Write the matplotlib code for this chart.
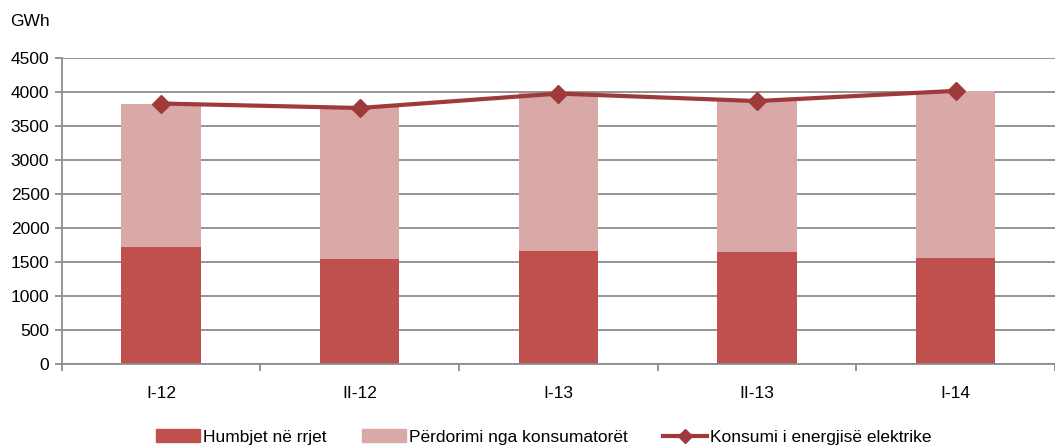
import matplotlib
matplotlib.use("Agg")
import matplotlib.pyplot as plt
from matplotlib.lines import Line2D
from matplotlib.patches import Patch
import numpy as np

categories = ["I-12", "II-12", "I-13", "II-13", "I-14"]
humbjet = [1718, 1532, 1659, 1640, 1551]
perdorimi = [2108, 2236, 2315, 2225, 2461]
konsumi = [3826, 3760, 3972, 3862, 4012]

plt.rcParams["font.family"] = ["Liberation Sans", "DejaVu Sans"]

W, H = 1055, 447
fig = plt.figure(figsize=(W/100, H/100), dpi=100)
unit = 201.5
left_px = 162.5 - 0.5*unit
ax = fig.add_axes([left_px/W, (H-363.5)/H, (W-left_px)/W, (363.5-57.7)/H])

x = np.arange(len(categories))
dark = "#C0504D"
light = "#D9A9A8"
linec = "#9E3B3A"

ax.bar(x, humbjet, width=0.4, color=dark, zorder=2)
ax.bar(x, perdorimi, width=0.4, bottom=humbjet, color=light, zorder=2)
ax.plot(x, konsumi, color=linec, lw=3, marker="D", markersize=9, zorder=3)

ax.set_ylim(0, 4500)
ax.set_yticks(np.arange(0, 4501, 500))
ax.set_xlim(-0.5, (W-left_px)/unit - 0.5)
ax.yaxis.grid(True, color="#8C8C8C", lw=1.3, zorder=0)
ax.set_axisbelow(True)
for s in ["top", "right"]:
    ax.spines[s].set_visible(False)
for s in ["left", "bottom"]:
    ax.spines[s].set_color("#8C8C8C")
    ax.spines[s].set_linewidth(1.3)

ax.set_xticks(x)
ax.set_xticklabels(categories, fontsize=12.5)
ax.set_xticks(np.arange(-0.5, 4.6, 1), minor=True)
ax.tick_params(axis="x", which="major", length=0, pad=16)
ax.tick_params(axis="x", which="minor", length=5, color="#8C8C8C", width=1.3)
ax.tick_params(axis="y", length=5, color="#8C8C8C", width=1.3, labelsize=12.5, pad=4)

fig.text(10/W, 1 - 21/H, "GWh", fontsize=12.5, va="center", ha="left")

handles = [Patch(color=dark), Patch(color=light),
           Line2D([], [], color=linec, lw=3, marker="D", markersize=7)]
labels = ["Humbjet në rrjet", "Përdorimi nga konsumatorët", "Konsumi i energjisë elektrike"]
fig.legend(handles, labels, loc="center", bbox_to_anchor=(544/W, 10/H), ncol=3,
           frameon=False, fontsize=12.5, handlelength=2.5, handletextpad=0.2,
           columnspacing=2.05, handleheight=0.8)

fig.savefig("out.png", dpi=100)
